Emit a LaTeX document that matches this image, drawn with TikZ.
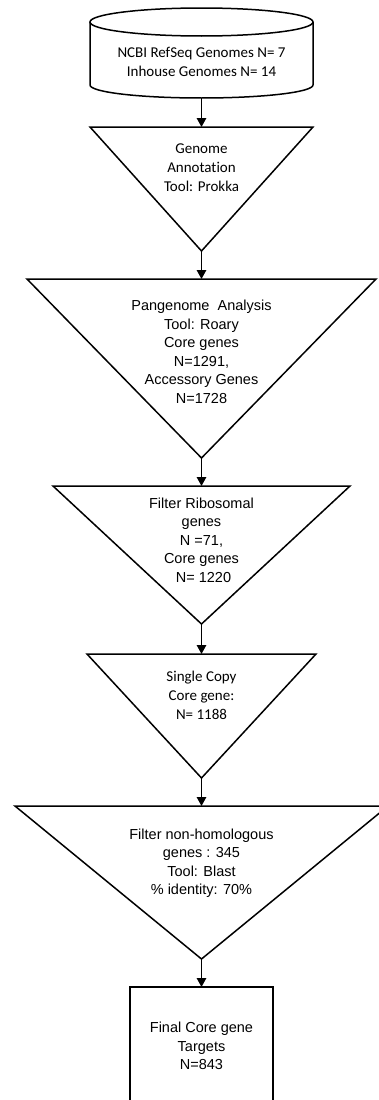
\documentclass[tikz,border=0pt]{standalone}
\usepackage{fontspec}
\setmainfont{Liberation Sans}
\newfontfamily\calibrifont[Ligatures=NoCommon]{Carlito}
\usetikzlibrary{arrows.meta}

\begin{document}
\begin{tikzpicture}%
	[x=1pt, y=-1pt,
	edge/.style={draw=black, line width=1.5pt, line join=miter},
	flow/.style={draw=black, line width=1.5pt, -{Triangle[width=9.5pt,length=9pt]}},
	calibrilabel/.style={align=center, inner sep=0pt, font=\calibrifont\fontsize{15}{19}\selectfont},
	ariallabel/.style={align=center, inner sep=0pt, font=\fontsize{14.5}{18.5}\selectfont}]
%
\path[use as bounding box, clip] (0,0) rectangle (379,1100);
%%
%% Genome database (cylinder)
%%
\draw[edge] (201.5,22) ellipse [x radius=111.5pt, y radius=14pt];
\draw[edge] (90,22) -- (90,85) arc[start angle=180, end angle=360, x radius=111.5pt, y radius=13pt] -- (313,22);
\coordinate (genomes-bottom) at (201.5,98);
\node[calibrilabel] (genomes) at (201.5,62) {NCBI RefSeq Genomes N= 7\\Inhouse Genomes N= 14};
%%
%% Genome annotation
%%
\coordinate (annot-top) at (201.5,127);
\coordinate (annot-tip) at (201.5,251);
\draw[edge] (90,127) -- (313,127) -- (annot-tip) -- cycle;
\node[calibrilabel] (annot) at (201.5,168) {Genome\\Annotation\\Tool: Prokka};
%%
%% Pangenome analysis
%%
\coordinate (pangenome-top) at (201.5,279);
\coordinate (pangenome-tip) at (201.5,458);
\draw[edge] (27,279) -- (376,279) -- (pangenome-tip) -- cycle;
\node[ariallabel] (pangenome) at (201.5,352) {Pangenome\ \ Analysis\\Tool: Roary\\Core genes\\N=1291,\\Accessory Genes\\N=1728};
%%
%% Ribosomal filter
%%
\coordinate (ribo-top) at (201.5,486);
\coordinate (ribo-tip) at (201.5,624);
\draw[edge] (53,486) -- (350,486) -- (ribo-tip) -- cycle;
\node[ariallabel] (ribo) at (201.5,540) {Filter Ribosomal\\genes\\N =71,\\Core genes\\\ N= 1220};
%%
%% Single copy
%%
\coordinate (single-top) at (201.5,654);
\coordinate (single-tip) at (201.5,778);
\draw[edge] (87,654) -- (316,654) -- (single-tip) -- cycle;
\node[calibrilabel] (single) at (201.5,695) {Single Copy\\Core gene:\\N= 1188};
%%
%% Homology filter
%%
\coordinate (homol-top) at (201.5,806);
\coordinate (homol-tip) at (201.5,959);
\draw[edge] (15,806) -- (388,806) -- (homol-tip) -- cycle;
\node[ariallabel] (homol) at (201.5,863) {Filter non-homologous\\genes\ : 345\\Tool: Blast\\\% identity: 70\%};
%%
%% Final targets
%%
\coordinate (final-top) at (201.5,987);
\draw[edge] (130,1110) -- (130,987) -- (273,987) -- (273,1110);
\node[ariallabel] (final) at (201.5,1046) {Final Core gene\\Targets\\N=843};
%%
%% Connectors
%%
\draw[flow] (genomes-bottom) -- (annot-top);
\draw[flow] (annot-tip) -- (pangenome-top);
\draw[flow] (pangenome-tip) -- (ribo-top);
\draw[flow] (ribo-tip) -- (single-top);
\draw[flow] (single-tip) -- (homol-top);
\draw[flow] (homol-tip) -- (final-top);

\end{tikzpicture}
\end{document}
